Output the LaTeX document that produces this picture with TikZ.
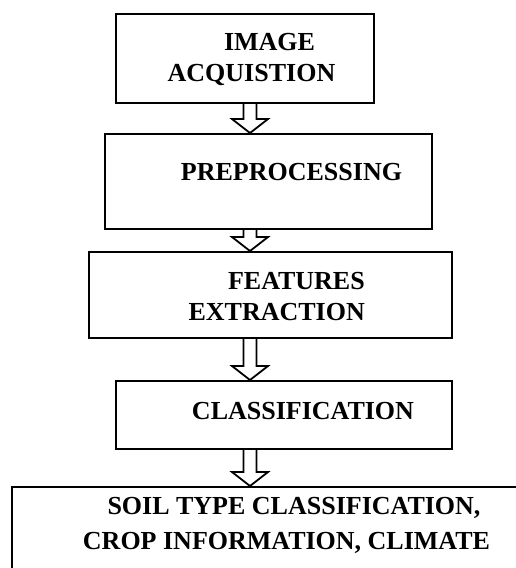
\documentclass[tikz,border=0pt]{standalone}
\usepackage{fontspec}
\setmainfont{Liberation Serif}
\usetikzlibrary{calc}

% x of the hollow arrows between the stages
\def\arrowx{250pt}

% hollow block arrow from the bottom of one box to the top of the next
\newcommand{\flowarrow}[2]{%
  \draw[hollow] let \p1=(#1.south), \p2=(#2.north) in
    (\arrowx-6.5pt,\y1) -- (\arrowx-6.5pt,\y2+14pt) -- (\arrowx-18pt,\y2+14pt)
    -- (\arrowx,\y2) -- (\arrowx+18pt,\y2+14pt) -- (\arrowx+6.5pt,\y2+14pt)
    -- (\arrowx+6.5pt,\y1);%
}

\tikzset{
  stage/.style={draw, line width=2pt, inner sep=0pt},
  caption/.style={inner sep=0pt, anchor=north,
    font=\bfseries\fontsize{26}{31.5}\selectfont},
  hollow/.style={draw, fill=white, line width=1.8pt, line join=miter},
}

\begin{document}
\begin{tikzpicture}[x=1pt, y=-1pt]

    \useasboundingbox (0,0) rectangle (515,568);

    % --- Stage boxes ---
    \node[stage, minimum width=258pt, minimum height=89pt] (img)  at (245,58.5)  {};
    \node[stage, minimum width=327pt, minimum height=95pt] (pre)  at (268.5,181.5) {};
    \node[stage, minimum width=363pt, minimum height=86pt] (feat) at (270.5,295)  {};
    \node[stage, minimum width=336pt, minimum height=68pt] (cls)  at (284,415)    {};
    % last box runs past the bottom and right edge
    \node[stage, minimum width=560pt, minimum height=120pt] (out) at (292,547)   {};

    % --- Texts ---
    \node[caption, align=center] (imgtxt) at (251.5,33)
        {\hspace*{36pt}IMAGE\\ACQUISTION};
    \node[caption] (pretxt) at (291.5,163) {PREPROCESSING};
    \node[caption, anchor=north east, align=right,
          font=\bfseries\fontsize{26}{31}\selectfont] (feattxt) at (365,272)
        {FEATURES\\EXTRACTION};
    \node[caption] (clstxt) at (303,402) {CLASSIFICATION};
    \node[caption, align=center,
          font=\bfseries\fontsize{26}{35.5}\selectfont] (outtxt) at (286.5,497)
        {\hspace*{15pt}SOIL TYPE CLASSIFICATION,\\CROP INFORMATION, CLIMATE};

    % --- Arrows between stages ---
    \flowarrow{img}{pre}
    \flowarrow{pre}{feat}
    \flowarrow{feat}{cls}
    \flowarrow{cls}{out}

\end{tikzpicture}
\end{document}
